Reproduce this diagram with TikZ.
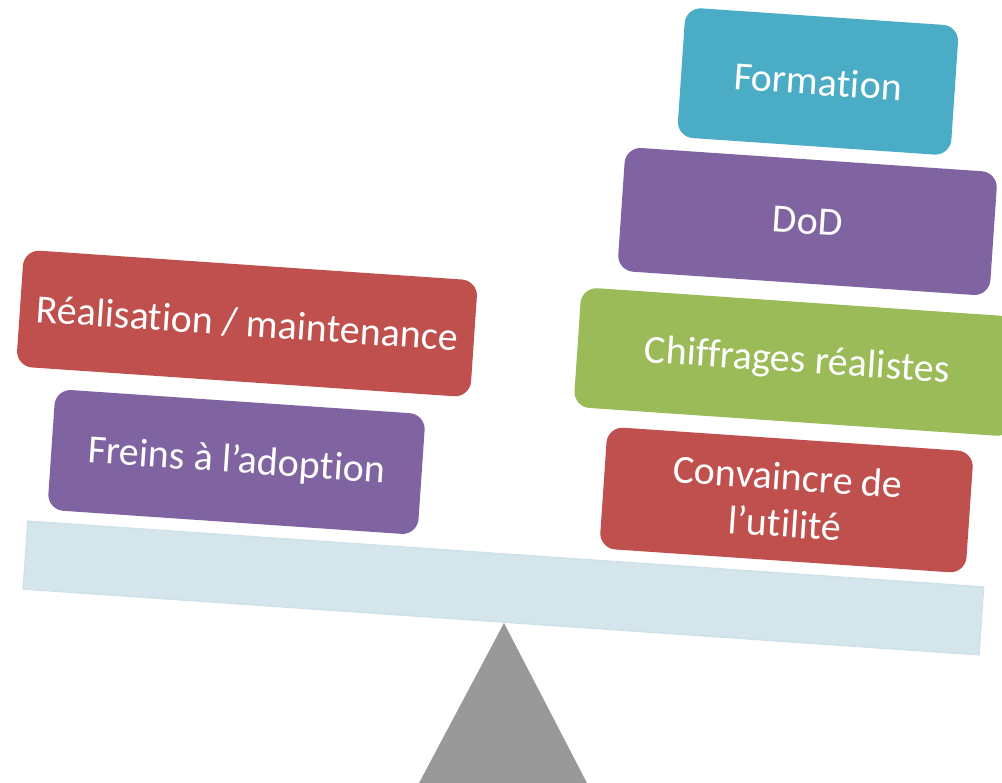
\documentclass[tikz,border=0pt]{standalone}
\usepackage{fontspec}
\setmainfont{Carlito}[Ligatures=NoCommon]
\definecolor{cteal}{HTML}{4BACC6}
\definecolor{cpurple}{HTML}{8064A2}
\definecolor{cgreen}{HTML}{9BBB59}
\definecolor{cred}{HTML}{C0504D}
\definecolor{cbeam}{HTML}{D4E5EC}
\definecolor{cbeamedge}{HTML}{CFE2E9}
\definecolor{cgray}{HTML}{999999}
\begin{document}
\begin{tikzpicture}[x=1pt,y=1pt,
  blk/.style={rounded corners=16pt, text=white, align=center,
    font=\fontsize{40}{47}\selectfont, rotate=-3.9, inner sep=0pt},
]
\useasboundingbox (0,0) rectangle (1002,783);
\fill[white] (0,0) rectangle (1002,783);
% fulcrum
\fill[cgray] (504,160) -- (418,-2) -- (588,-2) -- cycle;
% beam
\node[fill=cbeam, draw=cbeamedge, line width=1.5pt, minimum width=958pt,
  minimum height=68pt, rotate=-3.94, inner sep=0pt] (beam) at (503.4,195) {};
% right side
\node[blk, fill=cteal, minimum width=274pt, minimum height=130pt] (formation) at (818,701.5) {Formation};
\node[blk, fill=cpurple, minimum width=373pt, minimum height=124pt] (dod) at (807.5,561.5) {DoD};
\node[blk, fill=cgreen, minimum width=440pt, minimum height=120pt] (chiffrages) at (797,421) {Chiffrages réalistes};
\node[blk, fill=cred, minimum width=367pt, minimum height=122pt] (convaincre) at (786.5,283) {Convaincre de\\l’utilité};
% left side
\node[blk, fill=cred, minimum width=455pt, minimum height=117pt] (realisation) at (247,459.5) {Réalisation / maintenance};
\node[blk, fill=cpurple, minimum width=371pt, minimum height=121pt] (freins) at (236.5,321) {Freins à l’adoption};
\end{tikzpicture}
\end{document}
